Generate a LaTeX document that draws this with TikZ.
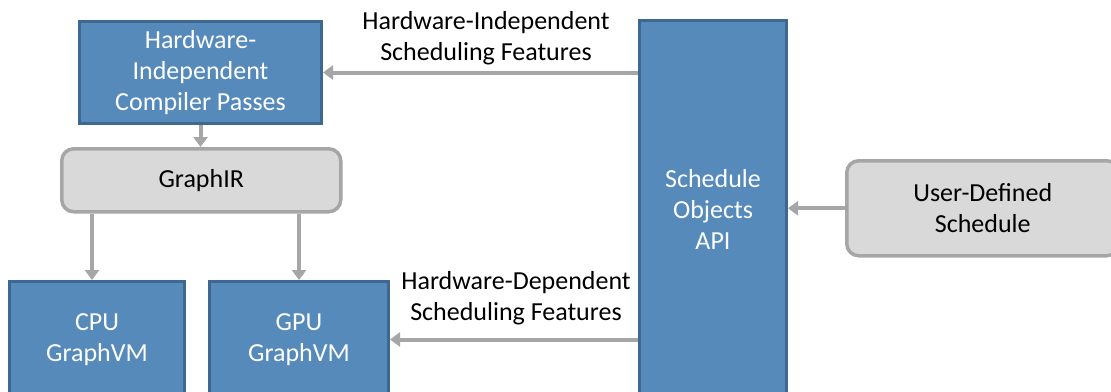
\documentclass[tikz,border=0pt]{standalone}
\usepackage{fontspec}
\setmainfont{Carlito}
\usetikzlibrary{arrows.meta}
\definecolor{boxblue}{HTML}{558ABB}
\definecolor{boxblueline}{HTML}{3E6890}
\definecolor{boxgray}{HTML}{D9D9D9}
\definecolor{linegray}{HTML}{A6A6A6}
\begin{document}
\begin{tikzpicture}[x=1pt,y=-1pt,
  font=\fontsize{26}{31}\selectfont,
  bluebox/.style={draw=boxblueline, line width=3pt, fill=boxblue, text=white,
    align=center, inner sep=0pt, anchor=north west},
  graybox/.style={draw=linegray, line width=3.5pt, fill=boxgray, text=black,
    rounded corners=12pt, align=center, inner sep=0pt, anchor=north west},
  arr/.style={draw=linegray, line width=4pt, -{Triangle[length=10pt,width=14pt]}},
  lbl/.style={align=center, inner sep=0pt, text=black}]
\useasboundingbox (0,0) rectangle (1111,391);
\clip (0,0) rectangle (1111,391);
% compiler side
\node[bluebox, minimum width=242pt, minimum height=102pt] (hic) at (78,20)
  {Hardware-\\Independent\\Compiler Passes};
\node[graybox, minimum width=279pt, minimum height=63pt] (gir) at (60,147) {GraphIR};
\node[bluebox, minimum width=175pt, minimum height=116pt] (cpu) at (8,280) {CPU\\GraphVM};
\node[bluebox, minimum width=179pt, minimum height=116pt] (gpu) at (208,280) {GPU\\GraphVM};
% scheduling side
\node[bluebox, minimum width=147pt, minimum height=378pt] (sched) at (638,19)
  {Schedule\\Objects\\API};
\node[graybox, minimum width=272pt, minimum height=95pt] (user) at (845,159)
  {User-Defined\\Schedule};
% connectors
\draw[arr] (hic.south) -- (hic.south |- gir.north);
\draw[arr] ([xshift=-5pt]gir.south -| cpu.north) -- ([xshift=-5pt]cpu.north);
\draw[arr] (gir.south -| gpu.north) -- (gpu.north);
\draw[arr] (sched.west |- hic.east) -- (hic.east);
\draw[arr] (sched.west |- gpu.east) -- (gpu.east);
\draw[arr] (user.west) -- (sched.east |- user.west);
% feature labels
\node[lbl] (indep) at (486,38) {Hardware-Independent\\Scheduling Features};
\node[lbl] (dep) at (516,298) {Hardware-Dependent\\Scheduling Features};
\end{tikzpicture}
\end{document}
